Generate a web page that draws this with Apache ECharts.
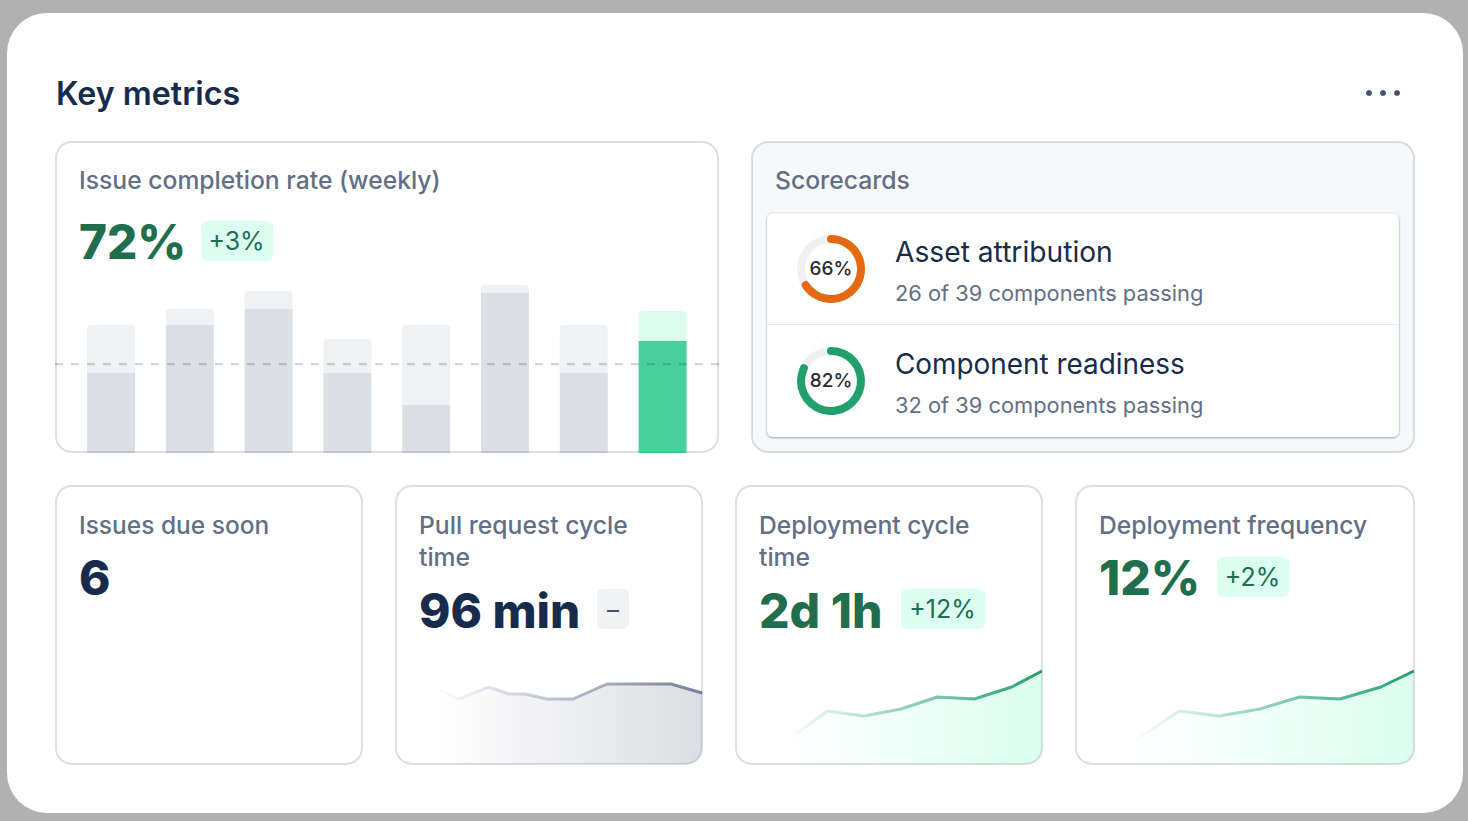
<!DOCTYPE html>
<html>
<head>
<meta charset="utf-8">
<title>Key metrics</title>
<script src="https://cdn.jsdelivr.net/npm/echarts@6/dist/echarts.min.js"></script>
<style>
html, body { margin: 0; padding: 0; background: #b1b1b1; }
#chart { width: 1468px; height: 821px; }
</style>
</head>
<body>
<div id="chart"></div>
<script>
// weekly issue completion
var weeks = ['W1', 'W2', 'W3', 'W4', 'W5', 'W6', 'W7', 'W8'];
var completedIssues = [5, 8, 9, 5, 3, 10, 5, 7];
var openIssues = [3, 1, 1.12, 2.12, 5, 0.5, 3, 1.87];
var targetLine = [5.56, 5.56];

// scorecards
var assetScore = [66];
var readinessScore = [82];

// sparklines
var cycleX = [3.06, 4.86, 7.29, 8.86, 10.1, 11.84, 13.88, 16.55, 21.57, 24];
var cycleY = [77, 65, 77, 70, 70, 65, 65, 80, 80, 71];
var deployX = [0, 1.14, 2.13, 3.13, 4.12, 5.12, 6.13, 6.95];
var deployCycleY = [22, 53, 48, 55, 67, 65, 77, 93];
var deployFreqY = [22, 53, 48, 55, 67, 65, 77, 93];

var NAVY = '#172b4d';
var SLATE = '#626f86';
var GREEN_TEXT = '#216e4e';
var BORDER = 'rgba(9,30,66,0.14)';
var FONT = 'Inter, "Noto Sans", sans-serif';
var LABEL = 24.7;
var BIG = 47.6;

function txt(x, y, text, size, weight, color, align) {
    return {
        type: 'text', x: x, y: y, z: 5, silent: true,
        style: {
            text: text, fill: color, align: align || 'left', verticalAlign: 'middle',
            font: weight + ' ' + size + 'px ' + FONT
        }
    };
}
function box(x, y, w, h, r, fill, stroke, z) {
    return {
        type: 'rect', z: z === undefined ? -1 : z, silent: true,
        shape: { x: x, y: y, width: w, height: h, r: r },
        style: { fill: fill, stroke: stroke || null, lineWidth: stroke ? 2 : 0 }
    };
}
function dot(x) {
    return { type: 'circle', z: 5, silent: true, shape: { cx: x, cy: 93, r: 3 }, style: { fill: '#44546f' } };
}
// white ring hides the area fill outside a rounded card corner, border goes on top
function sparkFrame(x, y, w, h) {
    return [
        { type: 'rect', z: 8, silent: true, shape: { x: x - 6, y: y - 6, width: w + 12, height: h + 12, r: 22 },
          style: { fill: null, stroke: '#fff', lineWidth: 12 } },
        box(x, y, w, h, 16, null, BORDER, 9)
    ];
}

var elements = [
    box(7, 13, 1456, 800, 40, '#fff'),
    txt(56, 93.5, 'Key metrics', 32.2, 600, NAVY),
    dot(1369), dot(1383), dot(1397),

    box(56, 142, 662, 310, 16, '#fff', BORDER),
    txt(79, 180, 'Issue completion rate (weekly)', LABEL, 500, SLATE),
    txt(79, 241, '72%', BIG, 800, GREEN_TEXT),
    box(201, 221, 72, 40, 6, '#dcfff1', null, 1),
    txt(236.5, 241, '+3%', 25, 400, GREEN_TEXT, 'center'),

    box(752, 142, 662, 310, 16, '#f7f8f9', BORDER),
    txt(775, 180, 'Scorecards', LABEL, 500, SLATE),
    {
        type: 'rect', z: 0, silent: true,
        shape: { x: 767, y: 213, width: 632, height: 224, r: 6 },
        style: { fill: '#fff', stroke: 'rgba(9,30,66,0.06)', lineWidth: 1, shadowColor: 'rgba(9,30,66,0.35)', shadowBlur: 2, shadowOffsetY: 1 }
    },
    { type: 'rect', z: 1, silent: true, shape: { x: 767, y: 324, width: 632, height: 1 }, style: { fill: '#e6e8ec' } },
    txt(831, 268, '66%', 19, 500, '#292a2e', 'center'),
    txt(895, 251.5, 'Asset attribution', 28.2, 400, NAVY),
    txt(895, 292.5, '26 of 39 components passing', 21.85, 400, SLATE),
    txt(831, 380, '82%', 19, 500, '#292a2e', 'center'),
    txt(895, 363.5, 'Component readiness', 27.9, 400, NAVY),
    txt(895, 404.5, '32 of 39 components passing', 21.85, 400, SLATE),

    box(56, 486, 306, 278, 16, '#fff', BORDER),
    txt(79, 524.5, 'Issues due soon', 24.5, 500, SLATE),
    txt(79, 577, '6', BIG, 800, NAVY),

    txt(419, 524.5, 'Pull request cycle', LABEL, 500, SLATE),
    txt(419, 556.5, 'time', LABEL, 500, SLATE),
    txt(419, 610, '96 min', BIG, 800, NAVY),
    box(597, 589, 32, 40, 6, '#f1f2f4', null, 1),
    txt(613, 609, '\u2013', 24, 400, '#44546f', 'center'),

    txt(759, 524.5, 'Deployment cycle', 24.6, 500, SLATE),
    txt(759, 556.5, 'time', LABEL, 500, SLATE),
    txt(759, 610, '2d 1h', 48, 800, GREEN_TEXT),
    box(901, 589, 84, 40, 6, '#dcfff1', null, 1),
    txt(942.5, 609, '+12%', 25, 400, GREEN_TEXT, 'center'),

    txt(1099, 524.5, 'Deployment frequency', 24.6, 500, SLATE),
    txt(1099, 577, '12%', 48, 800, GREEN_TEXT),
    box(1217, 557, 72, 40, 6, '#dcfff1', null, 1),
    txt(1252.5, 577, '+2%', 25, 400, GREEN_TEXT, 'center')
].concat(
    sparkFrame(396, 486, 306, 278),
    sparkFrame(736, 486, 306, 278),
    sparkFrame(1076, 486, 338, 278)
);

function hiddenAxis(type, gridIndex, min, max, data) {
    var a = { type: type, gridIndex: gridIndex, show: false };
    if (min !== undefined) { a.min = min; a.max = max; }
    if (data) { a.data = data; }
    return a;
}
function pairs(xs, ys) {
    return xs.map(function (x, i) { return [x, ys[i]]; });
}
function hGradient(from, to) {
    return new echarts.graphic.LinearGradient(0, 0, 1, 0, [
        { offset: 0, color: from }, { offset: 1, color: to }
    ]);
}
function spark(gridIndex, xs, ys, lineFrom, lineTo, areaFrom, areaTo) {
    return {
        type: 'line', xAxisIndex: gridIndex, yAxisIndex: gridIndex, z: 3,
        data: pairs(xs, ys), showSymbol: false, silent: true,
        lineStyle: { width: 3, color: hGradient(lineFrom, lineTo), join: 'round' },
        areaStyle: { color: hGradient(areaFrom, areaTo), opacity: 1 }
    };
}
function donut(center, values, color) {
    return {
        type: 'gauge', center: center, radius: 34, startAngle: 90, endAngle: -270,
        min: 0, max: 100, silent: true, z: 3,
        pointer: { show: false },
        progress: { show: true, width: 8, roundCap: true, itemStyle: { color: color } },
        axisLine: { lineStyle: { width: 8, color: [[1, '#f0f1f3']] } },
        axisTick: { show: false }, splitLine: { show: false }, axisLabel: { show: false },
        title: { show: false }, detail: { show: false },
        data: values.map(function (v) { return { value: v }; })
    };
}

var option = {
    animation: false,
    backgroundColor: '#b1b1b1',
    graphic: { elements: elements },
    grid: [
        { left: 71.6, top: 277, width: 630.4, height: 176 },
        { left: 55, top: 277, width: 664, height: 176 },
        { left: 396, top: 664, width: 306, height: 100 },
        { left: 785, top: 664, width: 257, height: 100 },
        { left: 1133, top: 664, width: 281, height: 100 }
    ],
    xAxis: [
        hiddenAxis('category', 0, undefined, undefined, weeks),
        hiddenAxis('value', 1, 0, 1),
        hiddenAxis('value', 2, 0, 24),
        hiddenAxis('value', 3, 0, 6.95),
        hiddenAxis('value', 4, 0, 6.95)
    ],
    yAxis: [
        hiddenAxis('value', 0, 0, 11),
        hiddenAxis('value', 1, 0, 11),
        hiddenAxis('value', 2, 0, 100),
        hiddenAxis('value', 3, 0, 100),
        hiddenAxis('value', 4, 0, 100)
    ],
    series: [
        {
            type: 'bar', stack: 'issues', xAxisIndex: 0, yAxisIndex: 0, barWidth: 48, silent: true, z: 2,
            data: completedIssues.map(function (v, i) {
                return { value: v, itemStyle: { color: i === weeks.length - 1 ? 'rgba(22,194,127,0.78)' : 'rgba(23,43,77,0.15)' } };
            })
        },
        {
            type: 'bar', stack: 'issues', xAxisIndex: 0, yAxisIndex: 0, barWidth: 48, silent: true, z: 2,
            data: openIssues.map(function (v, i) {
                return { value: v, itemStyle: { borderRadius: [4, 4, 0, 0], color: i === weeks.length - 1 ? '#dcfcee' : '#f0f1f3' } };
            })
        },
        {
            type: 'line', xAxisIndex: 1, yAxisIndex: 1, data: pairs([0, 1], targetLine), showSymbol: false, silent: true, z: 4,
            lineStyle: { width: 2.2, type: [8, 8], cap: 'butt', color: 'rgba(23,43,77,0.2)' }
        },
        donut(['831px', '269px'], assetScore, '#e56910'),
        donut(['831px', '381px'], readinessScore, '#22a06b'),
        spark(2, cycleX, cycleY, 'rgba(118,128,154,0)', '#76809a', 'rgba(220,222,227,0)', '#dcdee3'),
        spark(3, deployX, deployCycleY, 'rgba(34,160,107,0)', '#22a06b', 'rgba(220,255,241,0)', '#dcfff1'),
        spark(4, deployX, deployFreqY, 'rgba(34,160,107,0)', '#22a06b', 'rgba(220,255,241,0)', '#dcfff1')
    ]
};

var myChart = echarts.init(document.getElementById('chart'), null, { renderer: 'svg' });
myChart.setOption(option);
</script>
</body>
</html>
